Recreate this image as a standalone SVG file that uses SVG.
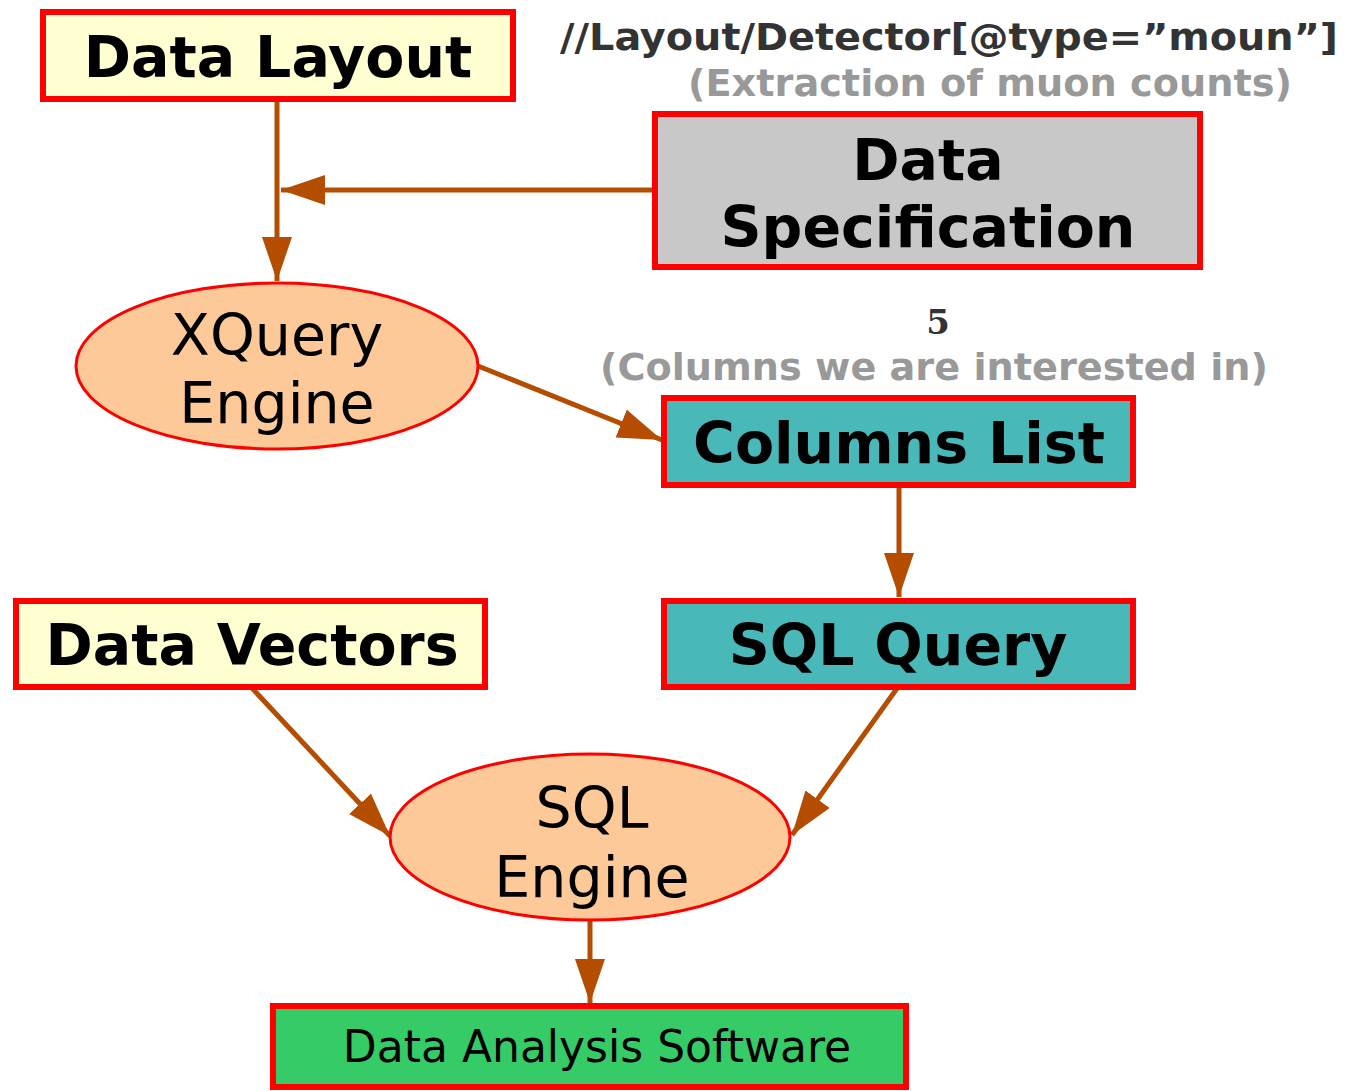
<svg xmlns="http://www.w3.org/2000/svg" width="1345" height="1091" viewBox="0 0 1345 1091">
<style>
.box{stroke:#ff0000;stroke-width:6}
.ell{fill:#fec998;stroke:#ff0000;stroke-width:3}
.bt{font-family:"DejaVu Sans",Verdana,sans-serif;font-weight:bold;fill:#000;text-anchor:middle;font-size:57px}
.rt{font-family:"DejaVu Sans",Verdana,sans-serif;fill:#000;text-anchor:middle}
.note{font-family:"DejaVu Sans Condensed","DejaVu Sans",sans-serif;font-stretch:condensed;font-weight:bold;text-anchor:middle}
.conn{stroke:#b54d00;stroke-width:5;fill:none}
</style>
<defs>
<marker id="ah" markerUnits="userSpaceOnUse" markerWidth="46" markerHeight="32" refX="44" refY="15" orient="auto">
<path d="M0,0 L44,15 L0,30 Z" fill="#b54d00"/>
</marker>
</defs>
<g id="connectors">
<line class="conn" x1="277" y1="99" x2="277" y2="281" marker-end="url(#ah)"/>
<line class="conn" x1="654" y1="190" x2="281" y2="190" marker-end="url(#ah)"/>
<line class="conn" x1="478" y1="366" x2="662" y2="440" marker-end="url(#ah)"/>
<line class="conn" x1="899" y1="485" x2="899" y2="597" marker-end="url(#ah)"/>
<line class="conn" x1="251" y1="687" x2="390" y2="836" marker-end="url(#ah)"/>
<line class="conn" x1="898" y1="687" x2="792" y2="835" marker-end="url(#ah)"/>
<line class="conn" x1="590" y1="920" x2="590" y2="1003" marker-end="url(#ah)"/>
</g>
<g id="data-layout">
<rect class="box" x="43" y="12" width="470" height="87" fill="#ffffd2"/>
<text class="bt" x="278" y="77">Data Layout</text>
</g>
<g id="note-xpath">
<text class="note" x="949" y="50" font-size="38" fill="#333333" textLength="778" lengthAdjust="spacingAndGlyphs">//Layout/Detector[@type=”moun”]</text>
<text class="note" x="990" y="96" font-size="38" fill="#999999" textLength="604" lengthAdjust="spacingAndGlyphs">(Extraction of muon counts)</text>
</g>
<g id="data-specification">
<rect class="box" x="655" y="114" width="545" height="153" fill="#c8c8c8"/>
<text class="bt" x="928" y="180">Data</text>
<text class="bt" x="928" y="247">Specification</text>
</g>
<g id="xquery-engine">
<ellipse class="ell" cx="277" cy="366" rx="201" ry="83"/>
<text class="rt" x="277" y="355" font-size="57">XQuery</text>
<text class="rt" x="277" y="423" font-size="57">Engine</text>
</g>
<g id="note-columns">
<text x="938" y="334" font-family="'DejaVu Serif','Liberation Serif',serif" font-weight="bold" font-size="34" fill="#333333" text-anchor="middle">5</text>
<text class="note" x="934" y="380" font-size="38" fill="#999999" textLength="668" lengthAdjust="spacingAndGlyphs">(Columns we are interested in)</text>
</g>
<g id="columns-list">
<rect class="box" x="664" y="398" width="469" height="87" fill="#48b8b8"/>
<text class="bt" x="899" y="463">Columns List</text>
</g>
<g id="data-vectors">
<rect class="box" x="16" y="601" width="469" height="86" fill="#ffffd2"/>
<text class="bt" x="252" y="665">Data Vectors</text>
</g>
<g id="sql-query">
<rect class="box" x="664" y="601" width="469" height="86" fill="#48b8b8"/>
<text class="bt" x="898" y="665">SQL Query</text>
</g>
<g id="sql-engine">
<ellipse class="ell" cx="590" cy="837" rx="200" ry="83"/>
<text class="rt" x="592" y="828" font-size="57">SQL</text>
<text class="rt" x="592" y="897" font-size="57">Engine</text>
</g>
<g id="data-analysis-software">
<rect class="box" x="273" y="1006" width="633" height="81" fill="#35cb67"/>
<text class="rt" x="597" y="1062" font-size="44">Data Analysis Software</text>
</g>
</svg>
